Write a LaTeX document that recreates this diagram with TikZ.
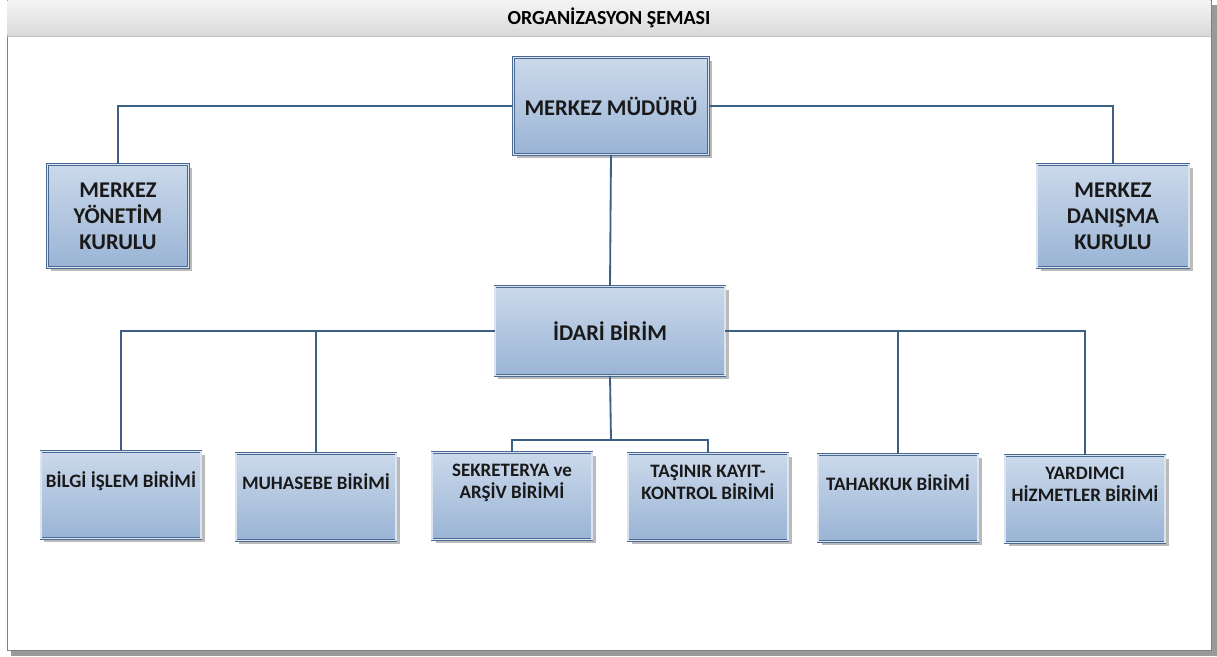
\documentclass[tikz,border=0pt]{standalone}
\usepackage{fontspec}
\setmainfont{Carlito}
\usetikzlibrary{shadows}

\definecolor{hatmavi}{HTML}{3E5F85}
\definecolor{kutust}{HTML}{CBD9EB}
\definecolor{kutalt}{HTML}{9AB4D5}
\definecolor{kutcizgi}{HTML}{4A6A92}

% metni kutunun ust kismina kaydir
\newcommand{\ustmetin}[1]{\raisebox{9pt}[\height][\depth]{\begin{tabular}{@{}c@{}}#1\end{tabular}}}

\begin{document}
\begin{tikzpicture}[x=0.025cm,y=-0.025cm,
    hat/.style={draw=hatmavi,line width=1.3pt},
    kutu/.style={draw=kutcizgi,line width=0.5pt,double=kutust!70,double distance=0.9pt,
      top color=kutust,bottom color=kutalt,
      drop shadow={shadow xshift=2.5pt,shadow yshift=-2.5pt,fill=black!45,opacity=0.6},
      text=black!90,font=\bfseries,align=center,inner sep=2pt},
    buyuk/.style={kutu,font=\bfseries\fontsize{16}{18.5}\selectfont},
    birim/.style={kutu,font=\bfseries\fontsize{13.5}{15.5}\selectfont,
      minimum width=4cm,minimum height=2.175cm}]

  \useasboundingbox (0,0) rectangle (1217,657);

  % cerceve ve baslik
  \fill[black!40] (11,5) rectangle (1217,656);
  \draw[black!50,fill=white] (7,0) rectangle (1211,650);
  \shade[top color=black!4,bottom color=black!15] (7.5,0) rectangle (1210.5,36);
  \draw[black!25] (7,36) -- (1211,36);
  \node[font=\bfseries\fontsize{14.2}{16}\selectfont] (baslik) at (609,18) {ORGANİZASYON ŞEMASI};

  \node[buyuk,minimum width=4.875cm,minimum height=2.425cm] (mudur) at (611,106) {MERKEZ MÜDÜRÜ};
  \node[buyuk,minimum width=3.525cm,minimum height=2.575cm] (yonetim) at (118,216) {MERKEZ\\YÖNETİM\\KURULU};
  \node[buyuk,minimum width=3.8cm,minimum height=2.575cm] (danisma) at (1113,216) {MERKEZ\\DANIŞMA\\KURULU};
  \node[buyuk,minimum width=5.75cm,minimum height=2.225cm] (idari) at (610,331) {İDARİ BİRİM};

  \node[birim] (bilgi) at (121,495) {\ustmetin{BİLGİ İŞLEM BİRİMİ}};
  \node[birim] (muhasebe) at (316,497) {\ustmetin{MUHASEBE BİRİMİ}};
  \node[birim] (sekreterya) at (512,496) {\ustmetin{SEKRETERYA ve\\ARŞİV BİRİMİ}};
  \node[birim] (tasinir) at (708,497) {\ustmetin{TAŞINIR KAYIT-\\KONTROL BİRİMİ}};
  \node[birim] (tahakkuk) at (898,498) {\ustmetin{TAHAKKUK BİRİMİ}};
  \node[birim] (yardimci) at (1085,499) {\ustmetin{YARDIMCI\\HİZMETLER BİRİMİ}};

  \coordinate (ayrim) at (611,440);

  \draw[hat] (mudur.west) -| (yonetim.north);
  \draw[hat] (mudur.east) -| (danisma.north);
  \draw[hat] (mudur.south) -- (idari.north);
  \draw[hat] (idari.west) -| (bilgi.north);
  \draw[hat] (idari.west -| muhasebe.north) -- (muhasebe.north);
  \draw[hat] (idari.east) -| (yardimci.north);
  \draw[hat] (idari.east -| tahakkuk.north) -- (tahakkuk.north);
  \draw[hat] (idari.south) -- (ayrim);
  \draw[hat] (sekreterya.north) |- (ayrim) -| (tasinir.north);
\end{tikzpicture}
\end{document}
